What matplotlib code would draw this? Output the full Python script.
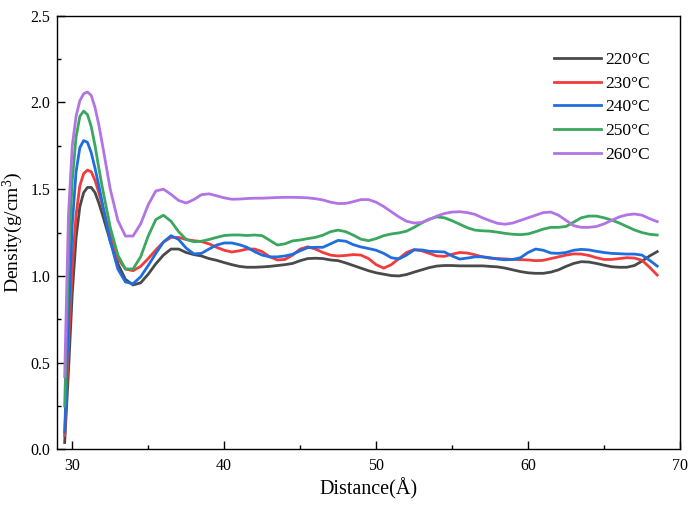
import matplotlib
matplotlib.use("Agg")
import matplotlib.pyplot as plt
from matplotlib.ticker import MultipleLocator, FormatStrFormatter

plt.rcParams['font.family'] = ['Liberation Serif', 'DejaVu Serif']
plt.rcParams['mathtext.fontset'] = 'custom'
plt.rcParams['mathtext.rm'] = 'Liberation Serif'
plt.rcParams['mathtext.it'] = 'Liberation Serif:italic'

distance = [29.5, 29.75, 30.0, 30.25, 30.5, 30.75, 31.0, 31.25, 31.5, 31.75,
            32.0, 32.5, 33.0, 33.5, 34.0, 34.5, 35.0, 35.5, 36.0, 36.5,
            37.0, 37.5, 38.0, 38.5, 39.0, 39.5, 40.0, 40.5, 41.0, 41.5,
            42.0, 42.5, 43.0, 43.5, 44.0, 44.5, 45.0, 45.5, 46.0, 46.5,
            47.0, 47.5, 48.0, 48.5, 49.0, 49.5, 50.0, 50.5, 51.0, 51.5,
            52.0, 52.5, 53.0, 53.5, 54.0, 54.5, 55.0, 55.5, 56.0, 56.5,
            57.0, 57.5, 58.0, 58.5, 59.0, 59.5, 60.0, 60.5, 61.0, 61.5,
            62.0, 62.5, 63.0, 63.5, 64.0, 64.5, 65.0, 65.5, 66.0, 66.5,
            67.0, 67.5, 68.0, 68.5]

d220 = [0.04, 0.45, 0.9, 1.22, 1.4, 1.48, 1.51, 1.51, 1.48, 1.42,
        1.35, 1.2, 1.07, 0.98, 0.948, 0.96, 1.01, 1.07, 1.12, 1.155,
        1.155, 1.135, 1.123, 1.115, 1.10, 1.09, 1.077, 1.065, 1.055, 1.05,
        1.05, 1.052, 1.055, 1.06, 1.065, 1.072, 1.088, 1.10, 1.102, 1.10,
        1.092, 1.088, 1.075, 1.06, 1.045, 1.03, 1.018, 1.01, 1.002, 1.0,
        1.008, 1.022, 1.035, 1.048, 1.057, 1.06, 1.06, 1.058, 1.058, 1.058,
        1.058, 1.055, 1.052, 1.045, 1.035, 1.025, 1.018, 1.015, 1.015, 1.022,
        1.035, 1.055, 1.072, 1.082, 1.08, 1.072, 1.062, 1.053, 1.05, 1.05,
        1.06, 1.085, 1.115, 1.14]

d230 = [0.08, 0.6, 1.05, 1.35, 1.52, 1.59, 1.61, 1.6, 1.55, 1.48,
        1.4, 1.23, 1.1, 1.04, 1.03, 1.055, 1.1, 1.15, 1.195, 1.222,
        1.222, 1.21, 1.203, 1.198, 1.185, 1.165, 1.148, 1.138, 1.145, 1.155,
        1.155, 1.14, 1.11, 1.092, 1.095, 1.12, 1.155, 1.168, 1.155, 1.135,
        1.12, 1.115, 1.118, 1.123, 1.12, 1.1, 1.065, 1.045, 1.065, 1.1,
        1.135, 1.152, 1.145, 1.13, 1.115, 1.113, 1.125, 1.135, 1.132, 1.122,
        1.11, 1.102, 1.1, 1.098, 1.095, 1.094, 1.092, 1.088, 1.09, 1.1,
        1.11, 1.12, 1.127, 1.126, 1.118, 1.105, 1.095, 1.095, 1.1, 1.105,
        1.103, 1.09, 1.05, 1.005]

d240 = [0.1, 0.75, 1.3, 1.6, 1.74, 1.78, 1.77, 1.71, 1.62, 1.52,
        1.41, 1.2, 1.04, 0.965, 0.955, 0.995, 1.06, 1.13, 1.195, 1.232,
        1.21, 1.16, 1.127, 1.13, 1.155, 1.178, 1.19, 1.19, 1.18, 1.165,
        1.14, 1.12, 1.11, 1.11, 1.115, 1.125, 1.145, 1.163, 1.165, 1.165,
        1.185, 1.205, 1.2, 1.18, 1.167, 1.158, 1.148, 1.13, 1.105, 1.098,
        1.12, 1.15, 1.15, 1.142, 1.14, 1.138, 1.115, 1.097, 1.103, 1.11,
        1.11, 1.105, 1.097, 1.093, 1.095, 1.105, 1.135, 1.155, 1.148, 1.132,
        1.13, 1.135, 1.148, 1.153, 1.15, 1.142, 1.135, 1.13, 1.128, 1.126,
        1.126, 1.12, 1.09, 1.057]

d250 = [0.25, 1.1, 1.55, 1.8, 1.92, 1.95, 1.93, 1.86, 1.75, 1.62,
        1.5, 1.28, 1.12, 1.04, 1.04, 1.11, 1.23, 1.325, 1.35, 1.315,
        1.255, 1.21, 1.197, 1.2, 1.21, 1.222, 1.233, 1.236, 1.236, 1.233,
        1.236, 1.232, 1.205, 1.178, 1.185, 1.202, 1.207, 1.215, 1.222, 1.235,
        1.255, 1.264, 1.255, 1.235, 1.212, 1.203, 1.215, 1.232, 1.242, 1.248,
        1.258, 1.28, 1.305, 1.328, 1.34, 1.335, 1.318, 1.298, 1.278, 1.264,
        1.26, 1.258, 1.252, 1.245, 1.24, 1.238, 1.242, 1.255, 1.27, 1.28,
        1.28, 1.285, 1.31, 1.335, 1.345, 1.345, 1.335, 1.322, 1.305, 1.285,
        1.265, 1.25, 1.24, 1.236]

d260 = [0.42, 1.35, 1.75, 1.92, 2.01, 2.05, 2.06, 2.04, 1.97, 1.87,
        1.75, 1.5, 1.32, 1.23, 1.23, 1.3, 1.41, 1.49, 1.5, 1.47,
        1.435, 1.42, 1.44, 1.468, 1.473, 1.462, 1.45, 1.442, 1.443, 1.446,
        1.448, 1.448, 1.45, 1.452, 1.453, 1.453, 1.452, 1.45, 1.445, 1.438,
        1.425, 1.417, 1.418, 1.428, 1.44, 1.44, 1.425, 1.4, 1.37, 1.34,
        1.315, 1.305, 1.308, 1.325, 1.345, 1.36, 1.368, 1.37, 1.365, 1.355,
        1.335, 1.318, 1.303, 1.298, 1.305, 1.32, 1.335, 1.35, 1.365, 1.368,
        1.35, 1.32, 1.29, 1.28, 1.28, 1.285, 1.3, 1.32, 1.34, 1.352,
        1.357, 1.35, 1.33, 1.313]

labels = ['220°C', '230°C', '240°C', '250°C', '260°C']
series = [d220, d230, d240, d250, d260]
colors = ['#4a4a4a', '#f03c3c', '#1f6ee0', '#39a85e', '#b274e4']

fig = plt.figure(figsize=(6.96, 5.05), dpi=100)
ax = fig.add_axes([0.082, 0.110, 0.895, 0.859])

for y, lab, c in zip(series, labels, colors):
    ax.plot(distance, y, color=c, lw=2.0, label=lab, solid_joinstyle='round')

ax.set_xlim(29, 70)
ax.set_ylim(0, 2.5)
ax.xaxis.set_major_locator(MultipleLocator(10))
ax.xaxis.set_minor_locator(MultipleLocator(5))
ax.yaxis.set_major_locator(MultipleLocator(0.5))
ax.yaxis.set_minor_locator(MultipleLocator(0.25))
ax.tick_params(which='both', direction='in', top=False, right=False, labelsize=11.5)
ax.tick_params(which='major', length=6, width=1.0)
ax.tick_params(which='minor', length=3, width=1.0)
ax.tick_params(axis='x', pad=6)
ax.tick_params(axis='y', pad=5)
ax.yaxis.set_major_formatter(FormatStrFormatter('%.1f'))
for s in ax.spines.values():
    s.set_linewidth(1.0)

ax.set_xlabel('Distance(Å)', fontsize=14.5, labelpad=3)
ax.set_ylabel('Density(g/cm$^3$)', fontsize=14, labelpad=4)

ax.legend(loc='upper right', bbox_to_anchor=(0.963, 0.933), frameon=False,
          fontsize=12.5, handlelength=2.7, handletextpad=0.25, labelspacing=0.44,
          borderaxespad=0.0)

fig.savefig('out.png', dpi=100)
